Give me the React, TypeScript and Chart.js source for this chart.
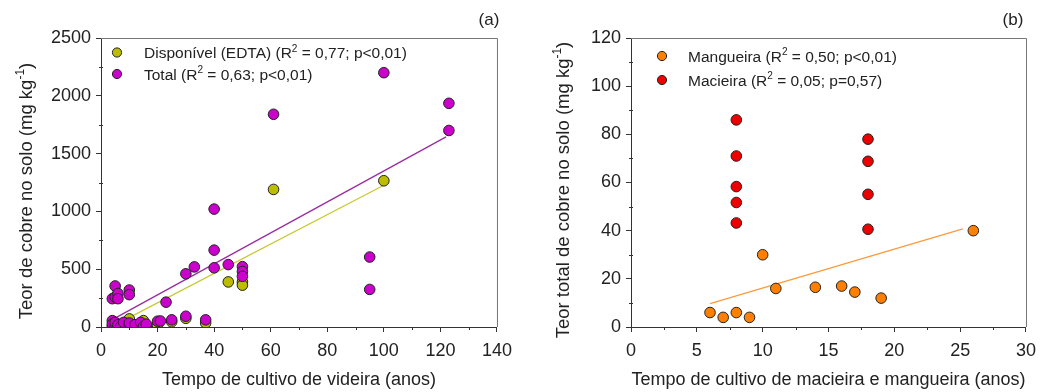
import React, { useEffect, useRef } from "react";
import { Chart, registerables } from "chart.js";
Chart.register(...registerables);

const FONT = '"Liberation Sans", Arial, sans-serif';

// ---------- Panel (a) data ----------
const totalYears = [4, 4, 5, 5, 6, 7, 8, 10, 10, 12, 14, 15, 16, 20, 21, 25, 30, 37, 4, 5, 5, 6, 6, 10, 10, 23, 30, 33, 40, 40, 40, 45, 50, 50, 50, 61, 95, 95, 100, 123, 123];
const totalCu = [55, 25, 10, 40, 20, 5, 40, 5, 35, 20, 40, 5, 25, 50, 52, 62, 93, 62, 245, 260, 355, 290, 245, 320, 280, 215, 460, 520, 512, 665, 1020, 540, 522, 480, 438, 1840, 605, 325, 2200, 1935, 1700];
const edtaYears = [4, 5, 6, 8, 10, 10, 12, 15, 16, 20, 25, 30, 37, 45, 50, 50, 61, 100];
const edtaCu = [5, 15, 25, 30, 70, 15, 15, 55, 10, 15, 45, 75, 35, 390, 390, 362, 1190, 1265];
const totalTrendYears = [4, 122];
const totalTrendCu = [64, 1645];
const edtaTrendYears = [5, 100];
const edtaTrendCu = [19, 1226];
const aXTicks = [0, 20, 40, 60, 80, 100, 120, 140];
const aYTicks = [0, 500, 1000, 1500, 2000, 2500];
const aXMinor = [10, 30, 50, 70, 90, 110, 130];
const aYMinor = [250, 750, 1250, 1750, 2250];

// ---------- Panel (b) data ----------
const mangoYears = [6, 7, 8, 9, 10, 11, 14, 16, 17, 19, 26];
const mangoCu = [6, 4, 6, 4, 30, 16, 16.5, 17, 14.5, 12, 40];
const appleYears = [8, 8, 8, 8, 8, 18, 18, 18, 18];
const appleCu = [86, 71, 58.3, 51.7, 43.2, 78, 68.8, 55.1, 40.6];
const mangoTrendYears = [6, 25.2];
const mangoTrendCu = [9.7, 40.7];
const bXTicks = [0, 5, 10, 15, 20, 25, 30];
const bYTicks = [0, 20, 40, 60, 80, 100, 120];
const bXMinor = [2.5, 7.5, 12.5, 17.5, 22.5, 27.5];
const bYMinor = [10, 30, 50, 70, 90, 110];

const MAGENTA = "#cc00cc";
const OLIVE = "#bdbd00";
const ORANGE = "#ff8000";
const RED = "#ee0000";

const TICK_SIZE = 18;
const XTITLE_SIZE = 18;
const YTITLE_SIZE = 18.5;

type Part = { t: string; sup?: boolean };

function partsWidth(ctx: CanvasRenderingContext2D, parts: Part[], size: number) {
  let w = 0;
  for (const p of parts) {
    ctx.font = `${p.sup ? size * 0.65 : size}px ${FONT}`;
    w += ctx.measureText(p.t).width;
  }
  return w;
}
function drawParts(ctx: CanvasRenderingContext2D, parts: Part[], x: number, y: number, size: number) {
  let cx = x;
  ctx.textBaseline = "alphabetic";
  ctx.textAlign = "left";
  for (const p of parts) {
    const s = p.sup ? size * 0.65 : size;
    ctx.font = `${s}px ${FONT}`;
    ctx.fillText(p.t, cx, p.sup ? y - size * 0.42 : y);
    cx += ctx.measureText(p.t).width;
  }
}

type LegendItem = { color: string; parts: Part[] };
type Decor = {
  label: string;
  labelX: number;
  labelY: number;
  legend: LegendItem[];
  legendMarkerX: number;
  legendTextX: number;
  legendRowY: number[];
  legendSize: number;
  yTitle: Part[];
  yTitleX: number;
  yTitleCY: number;
  xTitle: string;
  xTitleY: number;
  xMinor: number[];
  yMinor: number[];
};

function decorPlugin(d: Decor) {
  return {
    id: "decor",
    beforeDatasetsDraw(chart: any) {
      const { ctx, chartArea: a } = chart;
      ctx.save();
      ctx.strokeStyle = "#777";
      ctx.lineWidth = 1;
      ctx.beginPath();
      ctx.moveTo(a.left, a.top + 0.5);
      ctx.lineTo(a.right + 0.5, a.top + 0.5);
      ctx.lineTo(a.right + 0.5, a.bottom);
      ctx.stroke();
      ctx.restore();
    },
    afterDraw(chart: any) {
      const { ctx, chartArea: a } = chart;
      const xs = chart.scales.x;
      const ys = chart.scales.y;
      ctx.save();
      // minor ticks
      ctx.strokeStyle = "#333";
      ctx.lineWidth = 1;
      ctx.beginPath();
      for (const v of d.xMinor) {
        const px = Math.round(xs.getPixelForValue(v)) + 0.5;
        ctx.moveTo(px, a.bottom);
        ctx.lineTo(px, a.bottom + 3);
      }
      for (const v of d.yMinor) {
        const py = Math.round(ys.getPixelForValue(v)) + 0.5;
        ctx.moveTo(a.left - 2, py);
        ctx.lineTo(a.left + 2, py);
      }
      ctx.stroke();
      ctx.fillStyle = "#222";
      // panel label
      ctx.font = `17px ${FONT}`;
      ctx.textAlign = "center";
      ctx.textBaseline = "middle";
      ctx.fillText(d.label, d.labelX, d.labelY);
      // x title
      ctx.font = `${XTITLE_SIZE}px ${FONT}`;
      ctx.fillText(d.xTitle, (a.left + a.right) / 2, d.xTitleY);
      // y title
      ctx.save();
      ctx.translate(d.yTitleX, d.yTitleCY);
      ctx.rotate(-Math.PI / 2);
      const w = partsWidth(ctx, d.yTitle, YTITLE_SIZE);
      drawParts(ctx, d.yTitle, -w / 2, YTITLE_SIZE * 0.36, YTITLE_SIZE);
      ctx.restore();
      // legend
      d.legend.forEach((it, i) => {
        const y = d.legendRowY[i];
        ctx.beginPath();
        ctx.arc(d.legendMarkerX, y, 4.6, 0, Math.PI * 2);
        ctx.fillStyle = it.color;
        ctx.fill();
        ctx.strokeStyle = "#222";
        ctx.lineWidth = 1;
        ctx.stroke();
        ctx.fillStyle = "#222";
        drawParts(ctx, it.parts, d.legendTextX, y + d.legendSize * 0.36, d.legendSize);
      });
      ctx.restore();
    },
  };
}

function pts(xs: number[], ys: number[]) {
  return xs.map((x, i) => ({ x, y: ys[i] }));
}

function axisOpts(min: number, max: number, ticks: number[], isX: boolean, fitSize: number) {
  return {
    type: "linear",
    min,
    max,
    afterBuildTicks: (s: any) => {
      s.ticks = ticks.map((v) => ({ value: v }));
    },
    afterFit: (s: any) => {
      if (isX) s.height = fitSize;
      else s.width = fitSize;
    },
    grid: {
      drawOnChartArea: false,
      drawTicks: true,
      tickLength: 5,
      color: "#333",
      tickColor: "#333",
    },
    border: { display: true, color: "#333", width: 1 },
    ticks: {
      font: { family: FONT, size: TICK_SIZE },
      color: "#222",
      padding: isX ? 8 : 5,
      maxRotation: 0,
      autoSkip: false,
      callback: (v: any) => String(v),
    },
  };
}

function scatterDs(xs: number[], ys: number[], color: string) {
  return {
    type: "scatter",
    data: pts(xs, ys),
    backgroundColor: color,
    borderColor: "#222",
    borderWidth: 1,
    pointRadius: 5.3,
    showLine: false,
  };
}
function lineDs(xs: number[], ys: number[], color: string) {
  return {
    type: "line",
    data: pts(xs, ys),
    borderColor: color,
    borderWidth: 1.3,
    pointRadius: 0,
    showLine: true,
    fill: false,
  };
}

function PanelA() {
  const ref = useRef<HTMLCanvasElement>(null);
  useEffect(() => {
    const chart = new Chart(ref.current as HTMLCanvasElement, {
      type: "scatter",
      data: {
        datasets: [
          scatterDs(totalYears, totalCu, MAGENTA),
          scatterDs(edtaYears, edtaCu, OLIVE),
          lineDs(totalTrendYears, totalTrendCu, "#9a2ca0"),
          lineDs(edtaTrendYears, edtaTrendCu, "#c8c832"),
        ] as any,
      },
      options: {
        responsive: false,
        animation: false,
        devicePixelRatio: 1,
        layout: { padding: { left: 0, top: 38, right: 17, bottom: 0 } },
        plugins: { legend: { display: false }, tooltip: { enabled: false } },
        scales: {
          x: axisOpts(0, 140, aXTicks, true, 65),
          y: axisOpts(0, 2500, aYTicks, false, 101),
        } as any,
      },
      plugins: [
        decorPlugin({
          label: "(a)",
          labelX: 489,
          labelY: 20,
          legend: [
            { color: OLIVE, parts: [{ t: "Disponível (EDTA) (R" }, { t: "2", sup: true }, { t: " = 0,77; p<0,01)" }] },
            { color: MAGENTA, parts: [{ t: "Total (R" }, { t: "2", sup: true }, { t: " = 0,63; p<0,01)" }] },
          ],
          legendMarkerX: 117,
          legendTextX: 144,
          legendRowY: [52.5, 74],
          legendSize: 15.5,
          yTitle: [{ t: "Teor de cobre no solo (mg kg" }, { t: "-1", sup: true }, { t: ")" }],
          yTitleX: 25,
          yTitleCY: 191,
          xTitle: "Tempo de cultivo de videira (anos)",
          xTitleY: 380,
          xMinor: aXMinor,
          yMinor: aYMinor,
        }),
      ],
    } as any);
    return () => chart.destroy();
  }, []);
  return <canvas ref={ref} width={520} height={392} style={{ width: 520, height: 392, display: "block" }} />;
}

function PanelB() {
  const ref = useRef<HTMLCanvasElement>(null);
  useEffect(() => {
    const chart = new Chart(ref.current as HTMLCanvasElement, {
      type: "scatter",
      data: {
        datasets: [
          scatterDs(mangoYears, mangoCu, ORANGE),
          scatterDs(appleYears, appleCu, RED),
          lineDs(mangoTrendYears, mangoTrendCu, "#ff9a3c"),
        ] as any,
      },
      options: {
        responsive: false,
        animation: false,
        devicePixelRatio: 1,
        layout: { padding: { left: 0, top: 38, right: 13, bottom: 0 } },
        plugins: { legend: { display: false }, tooltip: { enabled: false } },
        scales: {
          x: axisOpts(0, 30, bXTicks, true, 65),
          y: axisOpts(0, 120, bYTicks, false, 111),
        } as any,
      },
      plugins: [
        decorPlugin({
          label: "(b)",
          labelX: 493,
          labelY: 20,
          legend: [
            { color: ORANGE, parts: [{ t: "Mangueira (R" }, { t: "2", sup: true }, { t: " = 0,50; p<0,01)" }] },
            { color: RED, parts: [{ t: "Macieira (R" }, { t: "2", sup: true }, { t: " = 0,05; p=0,57)" }] },
          ],
          legendMarkerX: 142,
          legendTextX: 168,
          legendRowY: [56, 80],
          legendSize: 15.5,
          yTitle: [{ t: "Teor total de cobre no solo (mg kg" }, { t: "-1", sup: true }, { t: ")" }],
          yTitleX: 42,
          yTitleCY: 190,
          xTitle: "Tempo de cultivo de macieira e mangueira (anos)",
          xTitleY: 380,
          xMinor: bXMinor,
          yMinor: bYMinor,
        }),
      ],
    } as any);
    return () => chart.destroy();
  }, []);
  return <canvas ref={ref} width={524} height={392} style={{ width: 524, height: 392, display: "block" }} />;
}

export default function App() {
  return (
    <div
      style={{
        position: "fixed",
        left: 0,
        top: 0,
        width: 1044,
        height: 392,
        display: "flex",
        background: "#fff",
      }}
    >
      <PanelA />
      <PanelB />
    </div>
  );
}
